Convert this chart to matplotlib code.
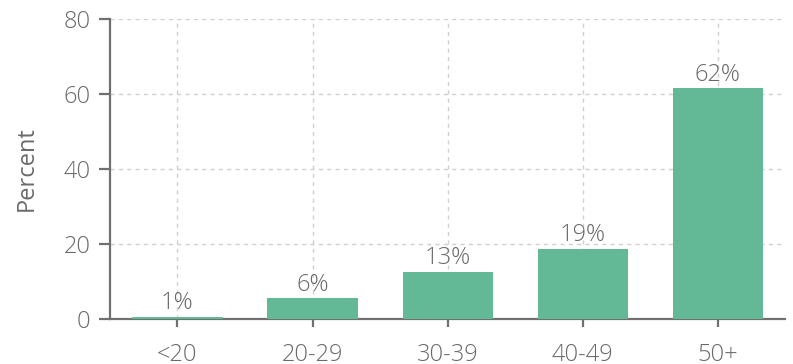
import matplotlib
matplotlib.use("Agg")
import matplotlib.pyplot as plt
import numpy as np

# Data
categories = ["<20", "20-29", "30-39", "40-49", "50+"]
percents = [0.6, 5.6, 12.6, 18.7, 61.6]
y_ticks = [0, 20, 40, 60, 80]

text_color = "#6a6a6a"
axis_color = "#707070"
bar_color = "#63b895"

plt.rcParams["font.family"] = ["Open Sans", "DejaVu Sans"]
plt.rcParams["font.weight"] = "light"
fs = 17

fig = plt.figure(figsize=(7.93, 3.64), dpi=100)
ax = fig.add_axes([0.1387, 0.1236, 0.8513, 0.8242])

x = np.arange(len(categories))
ax.bar(x, percents, width=0.667, color=bar_color, zorder=3)

for xi, v in zip(x, percents):
    ax.text(xi, v + 0.4, f"{v:.0f}%", ha="center", va="bottom",
            fontsize=fs, color=text_color, fontweight="light", zorder=4)

ax.set_xlim(-0.5, 4.5)
ax.set_ylim(0, 80)
ax.set_yticks(y_ticks)
ax.set_xticks(x)
ax.set_xticklabels(categories)

ax.grid(True, linestyle=(0, (3, 3)), color="#d0d0d0", linewidth=1, zorder=0)

for side in ["top", "right"]:
    ax.spines[side].set_visible(False)
for side in ["left", "bottom"]:
    ax.spines[side].set_color(axis_color)
    ax.spines[side].set_linewidth(1.6)

ax.tick_params(axis="y", length=8, width=1.6, color=axis_color,
               labelsize=fs, labelcolor=text_color, pad=6)
ax.tick_params(axis="x", length=6, width=1.6, color=axis_color,
               labelsize=fs, labelcolor=text_color, pad=11)

ax.set_ylabel("Percent", fontsize=fs, color=text_color, labelpad=18)

plt.savefig("out.png", dpi=100)
plt.close()
